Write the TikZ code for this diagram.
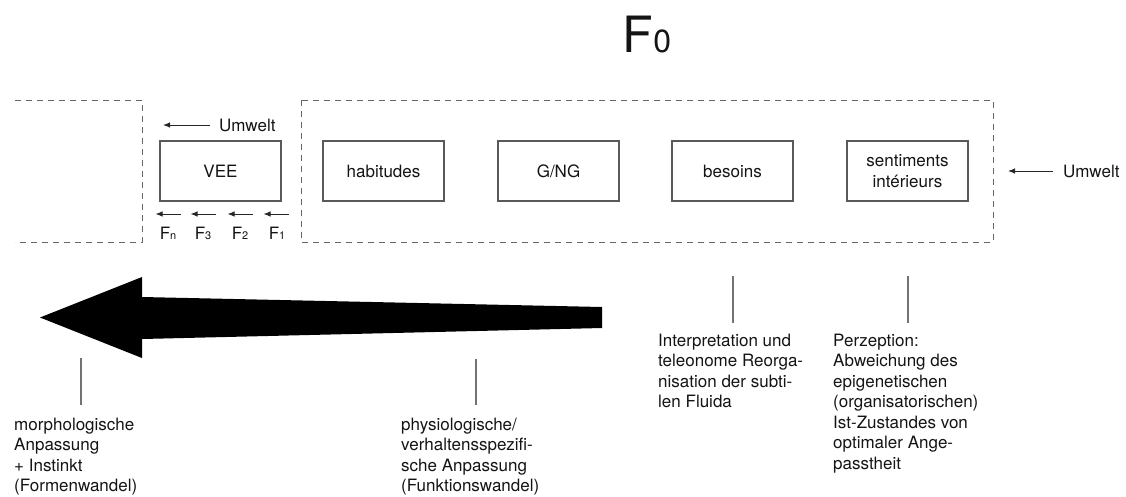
\documentclass[tikz,border=0pt]{standalone}
\usepackage{fontspec}
\setmainfont{TeX Gyre Heros}
\usetikzlibrary{arrows.meta}

\tikzset{
  lbl/.style={font=\fontsize{17}{20.5}\selectfont, text=black!92, inner sep=0pt},
  stagebox/.style={lbl, draw=black!65, line width=1.1pt, minimum width=121pt,
                   minimum height=60pt, align=center},
  zone/.style={draw=black!60, line width=0.9pt, dash pattern=on 6pt off 5pt},
  tick/.style={draw=black!55, line width=1.1pt},
  env/.style={draw=black!85, line width=1pt, -{Latex[length=7pt,width=5.5pt]}},
  note/.style={lbl, anchor=base west},
}
\newcommand{\sub}[1]{{\fontsize{11}{11}\selectfont #1}}

\begin{document}
\begin{tikzpicture}[x=1pt, y=-1pt]
  \useasboundingbox (0,0) rectangle (1126,496);

  % title
  \node[anchor=base, inner sep=0pt, text=black!92,
        font=\fontsize{50}{50}\selectfont] (title) at (647,52)
        {F{\fontsize{32}{32}\selectfont 0}};

  % dashed zones
  \draw[zone] (15,100) -- (142,100) -- (142,242) -- (15,242);
  \draw[zone] (301,100) rectangle (993,242);

  % stages
  \node[stagebox] (vee)  at (220.5,171) {VEE};
  \node[stagebox] (hab)  at (383.5,171) {habitudes};
  \node[stagebox] (gng)  at (558.5,171) {G/NG};
  \node[stagebox] (bes)  at (732.5,171) {besoins};
  \node[stagebox] (sent) at (907.5,171) {sentiments\\intérieurs};

  % environment inputs
  \node[lbl, anchor=west] (umwA) at (219,125) {Umwelt};
  \coordinate (umwAend) at (163,125);
  \draw[env] ([xshift=-9pt]umwA.west) -- (umwAend);

  \node[lbl, anchor=west] (umwB) at (1063,171) {Umwelt};
  \coordinate (umwBend) at (1008,171);
  \draw[env] ([xshift=-10pt]umwB.west) -- (umwBend);

  % factors under VEE
  \node[lbl, anchor=base] (fn) at (168,239) {F\sub{n}};
  \node[lbl, anchor=base] (f3) at (203,239) {F\sub{3}};
  \node[lbl, anchor=base] (f2) at (240,239) {F\sub{2}};
  \node[lbl, anchor=base] (f1) at (277,239) {F\sub{1}};
  \draw[env] ([yshift=25pt]fn.base) ++(12.5,0) -- ++(-25,0);
  \draw[env] ([yshift=25pt]f3.base) ++(12.5,0) -- ++(-25,0);
  \draw[env] ([yshift=25pt]f2.base) ++(12.5,0) -- ++(-25,0);
  \draw[env] ([yshift=25pt]f1.base) ++(11.5,0) -- ++(-25,0);

  % main tapering arrow
  \fill[black] (40,317.5) -- (142,277) -- (142,297) -- (602,307) -- (602,328)
               -- (142,339) -- (142,358) -- cycle;

  % annotations
  \node[note] (morph) at (14,430) {\parbox[t]{200pt}{\raggedright
      morphologische\\Anpassung\\+ Instinkt\\(Formenwandel)}};
  \node[note] (phys) at (401,430) {\parbox[t]{200pt}{\raggedright
      physiologische/\\verhaltensspezifi-\\sche Anpassung\\(Funktionswandel)}};
  \node[note] (interp) at (658,346) {\parbox[t]{200pt}{\raggedright
      Interpretation und\\teleonome Reorga-\\nisation der subti-\\len Fluida}};
  \node[note] (perz) at (833,346) {\parbox[t]{200pt}{\raggedright
      Perzeption:\\Abweichung des\\epigenetischen\\(organisatorischen)\\Ist-Zustandes von\\optimaler Ange-\\passtheit}};

  % leader ticks
  \coordinate (tA1) at (81,358);  \coordinate (tA2) at (81,405);
  \coordinate (tB1) at (476,359); \coordinate (tB2) at (476,405);
  \coordinate (tC1) at (733,276); \coordinate (tC2) at (733,323);
  \coordinate (tD1) at (908,276); \coordinate (tD2) at (908,323);
  \draw[tick] (tA1) -- (tA2);
  \draw[tick] (tB1) -- (tB2);
  \draw[tick] (tC1) -- (tC2);
  \draw[tick] (tD1) -- (tD2);
\end{tikzpicture}
\end{document}
